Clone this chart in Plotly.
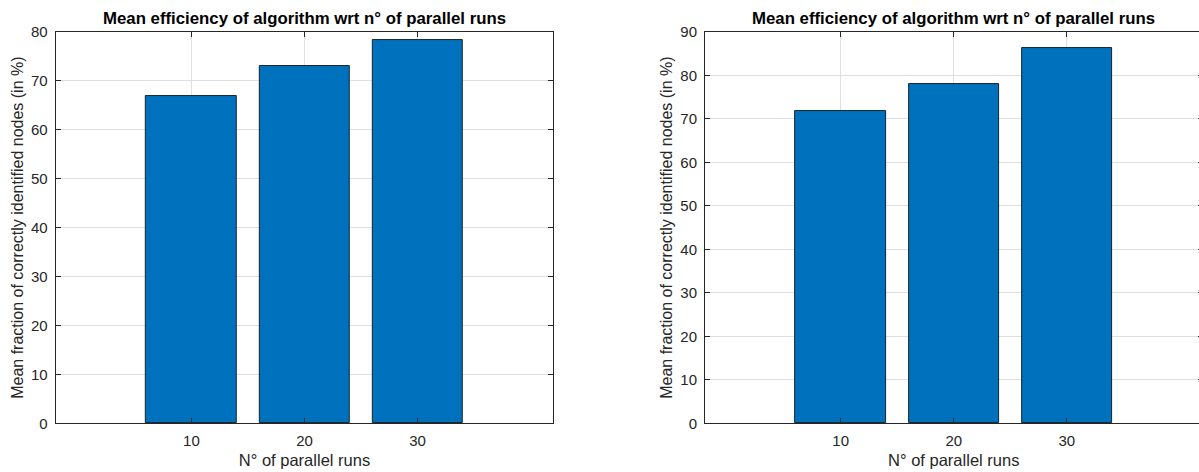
import plotly.graph_objects as go

runs = [10, 20, 30]
eff_left = [66.9, 73.0, 78.3]
eff_right = [71.8, 78.1, 86.3]
x_ticks = [10, 20, 30]
title_text = "Mean efficiency of algorithm wrt n° of parallel runs"
x_title = "N° of parallel runs"
y_title = "Mean fraction of correctly identified nodes (in %)"

BAR = "#0072BD"
AX = "#262626"
GRID = "#dfdfdf"
FONT = "Liberation Sans, Arial, Helvetica, sans-serif"

fig = go.Figure()
fig.add_trace(go.Bar(x=runs, y=eff_left, width=8, marker=dict(color=BAR, line=dict(color="#000000", width=0.8)),
                     xaxis="x", yaxis="y", showlegend=False))
fig.add_trace(go.Bar(x=runs, y=eff_right, width=8, marker=dict(color=BAR, line=dict(color="#000000", width=0.8)),
                     xaxis="x2", yaxis="y2", showlegend=False))

W, H = 1206, 472
ydom = [(H - 429.8) / H, (H - 23.8) / H]
xdom1 = [55.7 / W, 553.3 / W]
xdom2 = [705 / W, 1202.5 / W]

common_x = dict(tickvals=x_ticks, ticks="inside", ticklen=5, tickcolor=AX, showline=True, linecolor=AX,
                linewidth=1, mirror="ticks", showgrid=True, gridcolor=GRID, gridwidth=1, zeroline=False,
                tickfont=dict(family=FONT, size=15, color=AX), ticklabelstandoff=4,
                title=dict(text=x_title, font=dict(family=FONT, size=16.5, color=AX), standoff=6))
common_y = dict(ticks="inside", ticklen=5, tickcolor=AX, showline=True, linecolor=AX, linewidth=1,
                mirror="ticks", showgrid=True, gridcolor=GRID, gridwidth=1, zeroline=False, dtick=10,
                tickfont=dict(family=FONT, size=15, color=AX), ticklabelstandoff=4,
                title=dict(text=y_title, font=dict(family=FONT, size=16, color=AX), standoff=3))

fig.update_layout(
    width=W, height=H, margin=dict(l=0, r=0, t=0, b=0),
    paper_bgcolor="white", plot_bgcolor="white", bargap=0,
    xaxis=dict(common_x, domain=xdom1, range=[-2, 42], anchor="y"),
    yaxis=dict(common_y, domain=ydom, range=[0, 80], anchor="x"),
    xaxis2=dict(common_x, domain=xdom2, range=[-2, 42], anchor="y2"),
    yaxis2=dict(common_y, domain=ydom, range=[0, 90], anchor="x2"),
    annotations=[
        dict(text="<b>" + title_text + "</b>", x=20, y=1, xref="x", yref="paper", yanchor="middle",
             xanchor="center", yshift=-9, showarrow=False, font=dict(family=FONT, size=16.8, color="#000000")),
        dict(text="<b>" + title_text + "</b>", x=20, y=1, xref="x2", yref="paper", yanchor="middle",
             xanchor="center", yshift=-9, showarrow=False, font=dict(family=FONT, size=16.8, color="#000000")),
    ],
)

fig.write_html("out.html", config={"displayModeBar": False},
               post_script="document.body.style.margin='0';document.body.style.overflow='hidden';")
